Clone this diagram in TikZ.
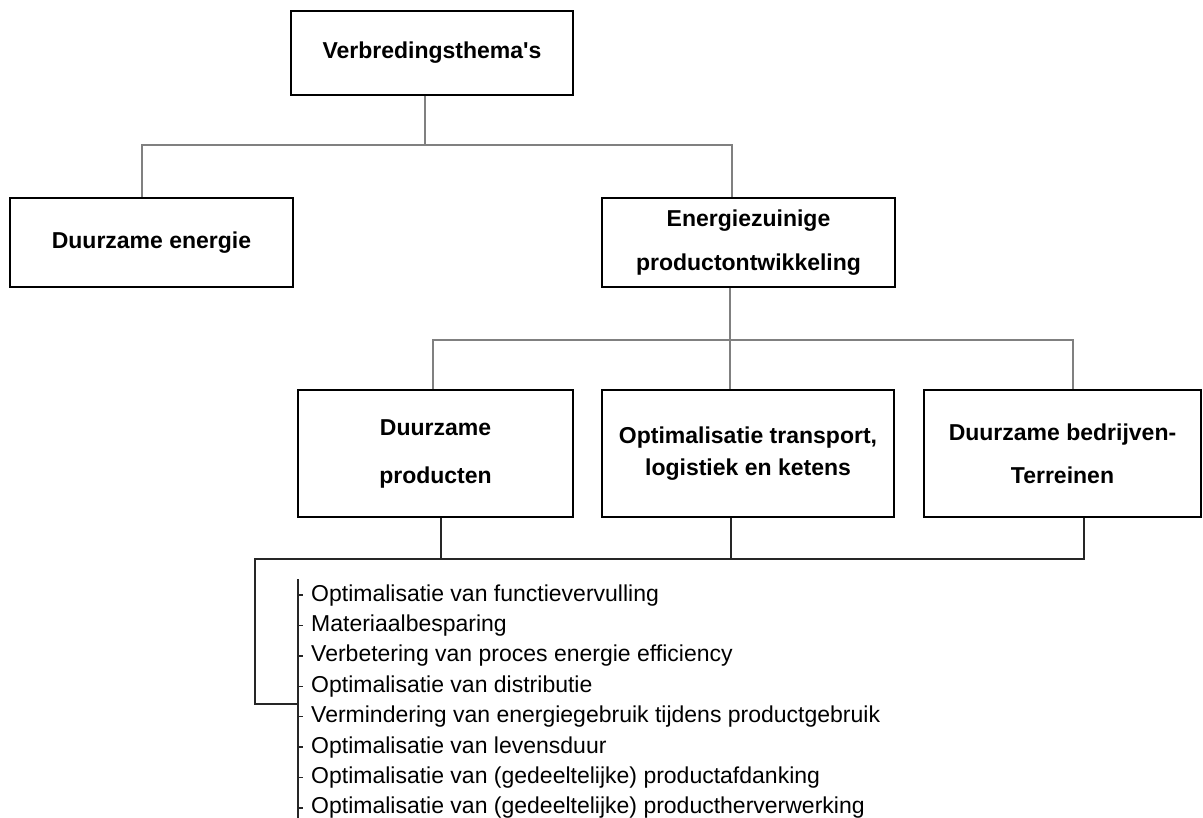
\documentclass[tikz,border=0pt]{standalone}
\usepackage{fontspec}
\setmainfont{Liberation Sans}
\begin{document}
\begin{tikzpicture}[x=1pt,y=-1pt,
    box/.style={shape=rectangle,draw=black,line width=2pt,inner sep=0pt,align=center,font=\fontsize{23}{27}\selectfont\bfseries},
    item/.style={anchor=base west,inner sep=0pt,font=\fontsize{23}{27}\selectfont},
    link/.style={draw=black!50,line width=1.2pt},
    sublink/.style={draw=black!85,line width=1.3pt}]
    \useasboundingbox (0,0) rectangle (1203,818);

    \node[box,minimum width=282pt,minimum height=84pt] (1) at (432,53) {Verbredingsthema\textquotesingle s};
    \node[box,minimum width=283pt,minimum height=89pt] (2) at (151.5,242.5) {Duurzame energie};
    \node[box,minimum width=293pt,minimum height=89pt] (3) at (748.5,242.5) {Energiezuinige\\[17pt]productontwikkeling};
    \node[box,minimum width=275pt,minimum height=127pt] (4) at (435.5,453.5) {Duurzame\\[21pt]producten};
    \node[box,minimum width=292pt,minimum height=127pt] (5) at (748,453.5) {Optimalisatie transport,\\[5pt]logistiek en ketens};
    \node[box,minimum width=277pt,minimum height=127pt] (6) at (1062.5,453.5) {Duurzame bedrijven-\\[16pt]Terreinen};

    \coordinate (a1) at (142,145);
    \coordinate (a2) at (425,145);
    \coordinate (a3) at (732,145);
    \draw[link] (a2 |- 1.south) -- (a2);
    \draw[link] (a1 |- 2.north) -- (a1) -- (a3) -- (a3 |- 3.north);

    \coordinate (b0) at (730,340);
    \coordinate (b1) at (433,340);
    \coordinate (b3) at (1073,340);
    \draw[link] (b0 |- 3.south) -- (b0 |- 5.north);
    \draw[link] (b1 |- 4.north) -- (b1) -- (b3) -- (b3 |- 6.north);

    \coordinate (c0) at (255,559);
    \coordinate (c1) at (441,559);
    \coordinate (c2) at (731,559);
    \coordinate (c3) at (1084,559);
    \coordinate (c4) at (255,704);
    \coordinate (c5) at (298,704);
    \draw[sublink] (c1 |- 4.south) -- (c1);
    \draw[sublink] (c2 |- 5.south) -- (c2);
    \draw[sublink] (c3 |- 6.south) -- (c3) -- (c0) -- (c4) -- (c5);

    \coordinate (s0) at (298,579);
    \coordinate (s1) at (298,818);
    \draw[sublink] (s0) -- (s1);

    \foreach \t [count=\i] in {Optimalisatie van functievervulling,
        Materiaalbesparing,
        Verbetering van proces energie efficiency,
        Optimalisatie van distributie,
        Vermindering van energiegebruik tijdens productgebruik,
        Optimalisatie van levensduur,
        Optimalisatie van (gedeeltelijke) productafdanking,
        Optimalisatie van (gedeeltelijke) productherverwerking} {
        \node[item] (l\i) at (311,{601+30.4*(\i-1)}) {\t};
        \draw[sublink] ([xshift=-13pt]l\i.west) -- ([xshift=-8pt]l\i.west);
    }
\end{tikzpicture}
\end{document}
